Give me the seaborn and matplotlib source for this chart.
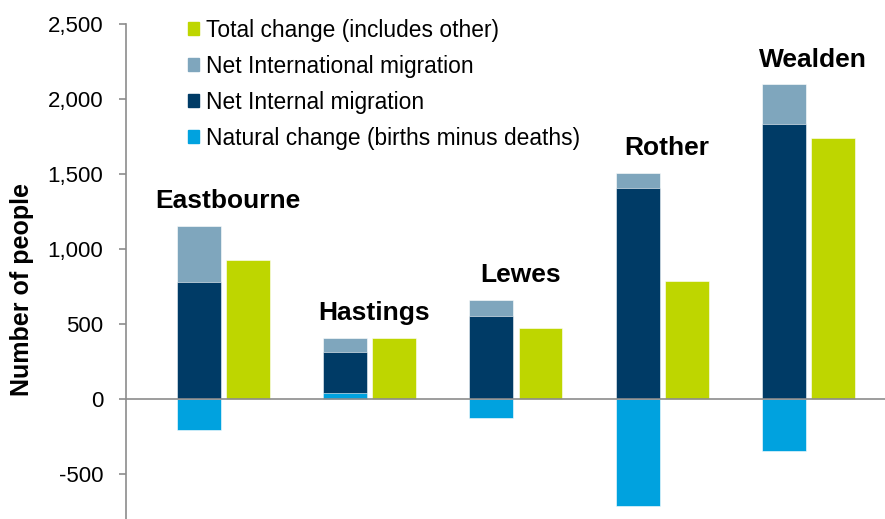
import numpy as np
import pandas as pd
import matplotlib
import matplotlib.pyplot as plt
import seaborn as sns
from matplotlib.patches import Patch

matplotlib.use('Agg')

# values
districts = ['Eastbourne', 'Hastings', 'Lewes', 'Rother', 'Wealden']
natural_change = [-207, 40, -129, -711, -345]
internal_migration = [778, 273, 553, 1409, 1835]
international_migration = [377, 97, 107, 100, 263]
total_change = [924, 410, 475, 787, 1738]

COLORS = {
    'total': '#BED600',
    'international': '#7FA6BD',
    'internal': '#003B66',
    'natural': '#00A2DF',
}

sns.set_style('white')
plt.rcParams['font.family'] = ['Liberation Sans', 'DejaVu Sans']

idx = np.arange(len(districts))
nat = np.array(natural_change)
pos_nat = np.clip(nat, 0, None)
cum_internal = pos_nat + np.array(internal_migration)
cum_intl = cum_internal + np.array(international_migration)

df = pd.DataFrame({
    'stack_x': idx - 0.168,
    'total_x': idx + 0.168,
    'natural': nat,
    'internal': cum_internal,
    'international': cum_intl,
    'total': total_change,
})

fig = plt.figure(figsize=(8.85, 5.19), dpi=100)
ax = fig.add_axes([125.6 / 885, 0, (885 - 125.6) / 885, 495 / 519])

bar_kw = dict(native_scale=True, orient='x', width=0.30, errorbar=None, saturation=1,
              edgecolor='white', linewidth=0.4, ax=ax)
# stacked bar drawn as overlapping cumulative bars, tallest first
sns.barplot(data=df, x='stack_x', y='international', color=COLORS['international'], **bar_kw)
sns.barplot(data=df, x='stack_x', y='internal', color=COLORS['internal'], **bar_kw)
sns.barplot(data=df, x='stack_x', y='natural', color=COLORS['natural'], **bar_kw)
sns.barplot(data=df, x='total_x', y='total', color=COLORS['total'], **bar_kw)

ax.set_xlim(-0.669, 4.523)
ax.set_ylim(-800, 2500)
ax.set_yticks(np.arange(-500, 2501, 500))
ax.yaxis.set_major_formatter(matplotlib.ticker.FuncFormatter(lambda v, p: f'{int(v):,}'))
ax.set_xticks([])
ax.set_xlabel('')
ax.tick_params(axis='y', which='major', left=True, length=5, width=1.2,
               color='#8c8c8c', pad=11, labelsize=16, labelcolor='#000000')
ax.set_ylabel('Number of people', fontsize=18, fontweight='bold', color='#000000')
ax.yaxis.set_label_coords((34 - 125.6) / 759.4, (519 - 290) / 495)

for side in ['top', 'right', 'bottom']:
    ax.spines[side].set_visible(False)
ax.spines['left'].set_color('#8c8c8c')
ax.spines['left'].set_linewidth(1.2)
ax.axhline(0, color='#8c8c8c', lw=1.2, zorder=5)

# district names above each stacked bar
for i, name in enumerate(districts):
    top = max(cum_intl[i], total_change[i])
    ax.annotate(name, (i + 0.03, top), xytext=(0, 9), textcoords='offset points',
                ha='center', va='bottom', fontsize=19, fontweight='bold', color='#000000')

handles = [
    Patch(color=COLORS['total'], label='Total change (includes other)'),
    Patch(color=COLORS['international'], label='Net International migration'),
    Patch(color=COLORS['internal'], label='Net Internal migration'),
    Patch(color=COLORS['natural'], label='Natural change (births minus deaths)'),
]
fig.legend(handles=handles, loc='upper left', bbox_to_anchor=(188 / 885, 1 - 19 / 519),
           frameon=False, fontsize=16.4, handlelength=0.5, handleheight=0.5,
           handletextpad=0.3, labelspacing=0.57, borderpad=0, borderaxespad=0,
           labelcolor='#000000')

fig.savefig('out.png', dpi=100)
plt.close(fig)
